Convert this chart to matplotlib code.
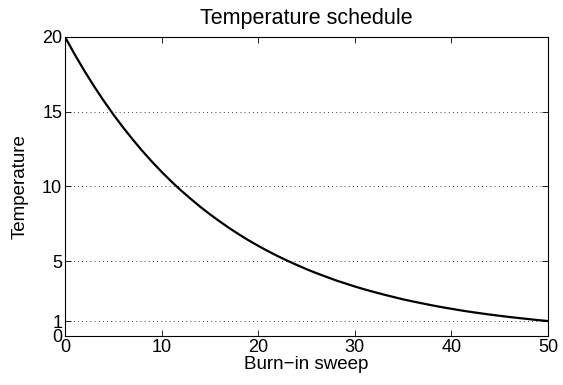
import matplotlib
matplotlib.use("Agg")
import matplotlib.pyplot as plt

# temperature at every burn-in sweep
sweeps = list(range(0, 51))
temperature = [20.00, 18.84, 17.74, 16.71, 15.74, 14.82, 13.96, 13.15, 12.38, 11.66,
               10.98, 10.34, 9.74, 9.18, 8.64, 8.14, 7.67, 7.22, 6.80, 6.40,
               6.03, 5.68, 5.35, 5.04, 4.75, 4.47, 4.21, 3.97, 3.73, 3.52,
               3.31, 3.12, 2.94, 2.77, 2.61, 2.45, 2.31, 2.18, 2.05, 1.93,
               1.82, 1.71, 1.61, 1.52, 1.43, 1.35, 1.27, 1.20, 1.13, 1.06,
               1.00]
xticks = [0, 10, 20, 30, 40, 50]
yticks = [0, 1, 5, 10, 15, 20]

plt.rcParams['font.family'] = ['Liberation Sans', 'DejaVu Sans']

fig = plt.figure(figsize=(5.63, 3.85), dpi=100)
ax = fig.add_axes([0.1155, 0.1273, 0.8579, 0.7766])

ax.plot(sweeps, temperature, color='black', linewidth=1.6)

ax.set_xlim(0, 50)
ax.set_ylim(0, 20)
ax.set_xticks(xticks)
ax.set_yticks(yticks)
ax.yaxis.grid(True, linestyle=(0, (1, 4)), color='black', linewidth=0.6)
ax.tick_params(direction='in', top=True, right=True, length=4, width=0.6,
               labelsize=13, pad=2)
for s in ax.spines.values():
    s.set_linewidth(0.8)

ax.set_xlabel('Burn\u2212in sweep', fontsize=13.5, labelpad=0)
ax.set_ylabel('Temperature', fontsize=13.5, va='center')
ax.yaxis.set_label_coords(-0.093, 0.5)
ax.set_title('Temperature schedule', fontsize=15.5, pad=9)

fig.savefig('out.png', dpi=100)
